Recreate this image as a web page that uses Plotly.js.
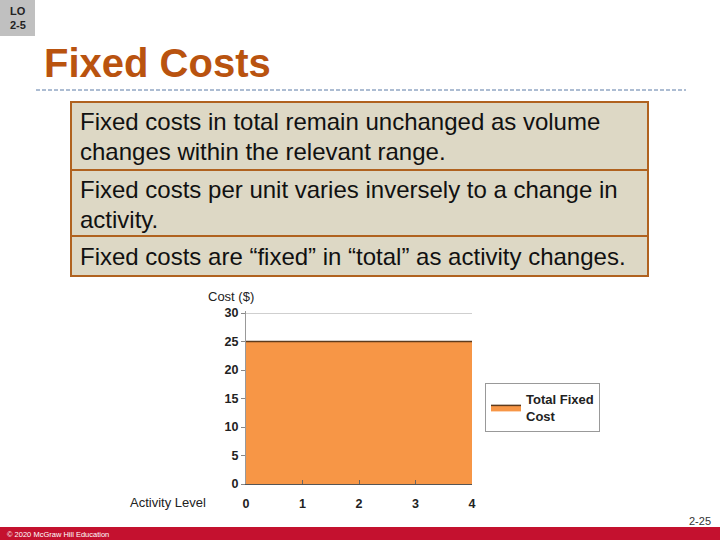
<!DOCTYPE html>
<html>
<head>
<meta charset="utf-8">
<script src="https://cdn.plot.ly/plotly-3.0.1.min.js"></script>
<style>
  body { margin: 0; background: #fff; }
  #chart { width: 720px; height: 540px; }
</style>
</head>
<body>
<div id="chart"></div>
<script>
// chart data
var activityLevel = [0, 1, 2, 3, 4]
var totalFixedCost = [25, 25, 25, 25, 25]
var costTicks = [0, 5, 10, 15, 20, 25, 30]
var seriesName = 'Total Fixed<br>Cost'

// slide text
var boxLines = [
    ['Fixed costs in total remain unchanged as volume', 'changes within the relevant range.'],
    ['Fixed costs per unit varies inversely to a change in', 'activity.'],
    ['Fixed costs are \u201cfixed\u201d in \u201ctotal\u201d as activity changes.']
]

// pixel -> paper helpers (page is 720x540, no margins)
var W = 720, H = 540
function px(x) { return x / W }
function py(y) { return 1 - y / H }

var shapes = [], annotations = []

// LO badge
shapes.push({type: 'rect', xref: 'paper', yref: 'paper', x0: px(0), x1: px(35), y0: py(0), y1: py(36),
    fillcolor: '#c0c0c0', line: {width: 0}})
annotations.push({xref: 'paper', yref: 'paper', x: px(17.5), y: py(11), text: '<b>LO</b>', showarrow: false,
    font: {family: 'Arial, Liberation Sans', size: 11, color: '#222'}, xanchor: 'center', yanchor: 'middle'})
annotations.push({xref: 'paper', yref: 'paper', x: px(17.5), y: py(25), text: '<b>2-5</b>', showarrow: false,
    font: {family: 'Arial, Liberation Sans', size: 11, color: '#222'}, xanchor: 'center', yanchor: 'middle'})

// title + dashed rule
annotations.push({xref: 'paper', yref: 'paper', x: px(42), y: py(63), text: '<b>Fixed Costs</b>', showarrow: false,
    font: {family: 'Arial, Liberation Sans', size: 40, color: '#b9530f'}, xanchor: 'left', yanchor: 'middle'})
shapes.push({type: 'line', xref: 'paper', yref: 'paper', x0: px(36), x1: px(686), y0: py(90), y1: py(90),
    line: {color: '#5a7aa6', width: 1, dash: '4px,2px'}})

// text boxes
var boxTops = [102, 170, 236], boxBottoms = [170, 236, 276]
var lineY = [[121, 151], [189, 219], [256]]
boxLines.forEach((lines, i) => {
    shapes.push({type: 'rect', xref: 'paper', yref: 'paper', x0: px(71), x1: px(648),
        y0: py(boxBottoms[i]), y1: py(boxTops[i]), fillcolor: '#ddd8c5', line: {color: '#b0621f', width: 2}})
    lines.forEach((t, j) => {
        annotations.push({xref: 'paper', yref: 'paper', x: px(78), y: py(lineY[i][j]), text: t, showarrow: false,
            font: {family: 'Arial, Liberation Sans', size: 24, color: '#111'}, xanchor: 'left', yanchor: 'middle'})
    })
})

// axis captions
annotations.push({xref: 'paper', yref: 'paper', x: px(231), y: py(296), text: 'Cost ($)', showarrow: false,
    font: {family: 'Arial, Liberation Sans', size: 13, color: '#222'}, xanchor: 'center', yanchor: 'middle'})
annotations.push({xref: 'paper', yref: 'paper', x: px(168), y: py(502), text: 'Activity Level', showarrow: false,
    font: {family: 'Arial, Liberation Sans', size: 13, color: '#222'}, xanchor: 'center', yanchor: 'middle'})

// footer
shapes.push({type: 'rect', xref: 'paper', yref: 'paper', x0: 0, x1: 1, y0: py(540), y1: py(527),
    fillcolor: '#c4112f', line: {width: 0}})
annotations.push({xref: 'paper', yref: 'paper', x: px(5), y: py(534), text: '\u00a9 2020 McGraw Hill Education', showarrow: false,
    font: {family: 'Arial, Liberation Sans', size: 7.5, color: '#fff'}, xanchor: 'left', yanchor: 'middle'})
annotations.push({xref: 'paper', yref: 'paper', x: px(713), y: py(521), text: '2-25', showarrow: false,
    font: {family: 'Arial, Liberation Sans', size: 11, color: '#333'}, xanchor: 'right', yanchor: 'middle'})

var trace = {
    x: activityLevel,
    y: totalFixedCost,
    name: seriesName,
    type: 'scatter',
    mode: 'lines',
    fill: 'tozeroy',
    fillcolor: '#f79646',
    line: {color: '#5e3b1c', width: 1.5},
    showlegend: true
}

var layout = {
    width: W, height: H,
    margin: {l: 0, r: 0, t: 0, b: 0},
    paper_bgcolor: '#fff',
    plot_bgcolor: '#fff',
    showlegend: true,
    hovermode: false,
    font: {family: 'Arial, Liberation Sans', color: '#222'},
    xaxis: {
        domain: [px(246), px(472)],
        range: [0, 4],
        tickvals: activityLevel,
        ticks: 'inside', ticklen: 4, tickcolor: '#666',
        ticklabelstandoff: 8,
        tickfont: {size: 12.5, color: '#222', weight: 'bold'},
        showgrid: false, zeroline: false,
        showline: true, linecolor: '#555', linewidth: 1
    },
    yaxis: {
        // range runs a bit past 30 so plotly keeps the top gridline (it drops lines within 1px of the edge)
        domain: [py(484), py(311.3)],
        range: [0, 30.3],
        tickvals: costTicks,
        ticks: 'outside', ticklen: 4, tickcolor: '#888',
        tickfont: {size: 12.5, color: '#222', weight: 'bold'},
        showgrid: true, gridcolor: '#cfcfcf',
        zeroline: false,
        showline: true, linecolor: '#999', linewidth: 1
    },
    legend: {
        x: px(485), y: py(383), xanchor: 'left', yanchor: 'top',
        bgcolor: '#fff', bordercolor: '#999', borderwidth: 1,
        font: {size: 13, color: '#222', weight: 'bold'}
    },
    shapes: shapes,
    annotations: annotations
}

Plotly.newPlot('chart', [trace], layout, {displayModeBar: false, staticPlot: true})
</script>
</body>
</html>
